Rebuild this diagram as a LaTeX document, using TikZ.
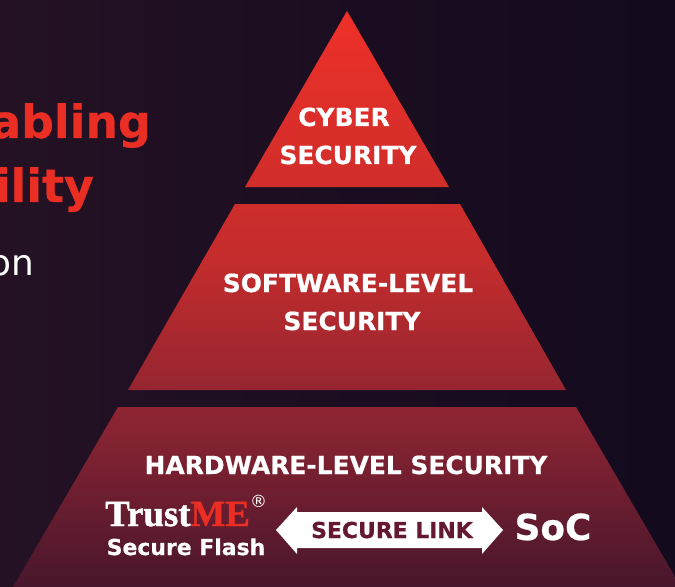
\documentclass[tikz,border=0pt]{standalone}
\usepackage{fontspec}
\setmainfont{Open Sans}
\newfontfamily\lab[BoldFeatures={FakeBold=0.6}]{DejaVu Sans}
\newfontfamily\serifb[BoldFeatures={FakeBold=1.2}]{Liberation Serif}
\definecolor{bgL}{RGB}{36,17,36}
\definecolor{bgR}{RGB}{19,10,30}
\definecolor{pyrTop}{RGB}{238,48,40}
\definecolor{pyrMid}{RGB}{196,44,44}
\definecolor{pyrLow}{RGB}{135,35,50}
\definecolor{pyrEnd}{RGB}{72,22,44}
\definecolor{headred}{RGB}{234,46,36}
\definecolor{linktext}{RGB}{100,24,50}
\tikzset{
  headline/.style={anchor=base east,inner sep=0pt,text=headred,font=\lab\bfseries\fontsize{46}{46}\selectfont},
  sublabel/.style={anchor=base,inner sep=0pt,text=white,font=\lab\bfseries\fontsize{25}{25}\selectfont},
  smalllabel/.style={anchor=base,inner sep=0pt,text=white,font=\lab\bfseries\fontsize{25}{25}\selectfont}
}
\begin{document}
\begin{tikzpicture}[x=1bp,y=-1bp]
\useasboundingbox (0,0) rectangle (675,587);
\shade[left color=bgL,right color=bgR] (0,0) rectangle (675,587);
\begin{scope}
  \clip (347,11) -- (449,187) -- (245,187) -- cycle
        (235,204) -- (460,204) -- (566,390) -- (128,390) -- cycle
        (118,407) -- (576,407) -- (681,587) -- (13,587) -- cycle;
  \shade[top color=pyrTop,bottom color=pyrMid] (0,11) rectangle (675,260);
  \shade[top color=pyrMid,bottom color=pyrLow] (0,260) rectangle (675,430);
  \shade[top color=pyrLow,bottom color=pyrEnd] (0,430) rectangle (675,587);
\end{scope}
\node[headline] (t1) at (151,138) {abling};
\node[headline] (t2) at (94,202) {ility};
\node[anchor=base east,inner sep=0pt,text=white,font=\lab\fontsize{36}{36}\selectfont] (t3) at (34,275) {on};
\node[sublabel] (c1) at (344,126) {CYBER};
\node[sublabel] (c2) at (348,164) {SECURITY};
\node[sublabel] (s1) at (348,292) {SOFTWARE-LEVEL};
\node[sublabel] (s2) at (352,330) {SECURITY};
\node[smalllabel] (h) at (346,474) {HARDWARE-LEVEL SECURITY};
\node[anchor=base west,inner sep=0pt,text=white,font=\serifb\bfseries\fontsize{37}{37}\selectfont] (tm) at (105,526) {Trust\textcolor{headred}{ME}};
\node[anchor=base west,inner sep=0pt,text=white,font=\lab\fontsize{17}{17}\selectfont] (reg) at (250,507) {®};
\node[anchor=base,inner sep=0pt,text=white,font=\lab\bfseries\fontsize{22}{22}\selectfont] (sf) at (186,555) {Secure Flash};
\fill[white] (276,530) -- (297,507) -- (297,512) -- (482,512) -- (482,507) -- (503,530) -- (482,554) -- (482,548) -- (297,548) -- (297,554) -- cycle;
\node[anchor=base,inner sep=0pt,text=linktext,font=\lab\bfseries\fontsize{22}{22}\selectfont] (sl) at (392,538) {SECURE LINK};
\node[anchor=base,inner sep=0pt,text=white,font=\lab\bfseries\fontsize{36}{36}\selectfont] (soc) at (553,540) {SoC};
\end{tikzpicture}
\end{document}
